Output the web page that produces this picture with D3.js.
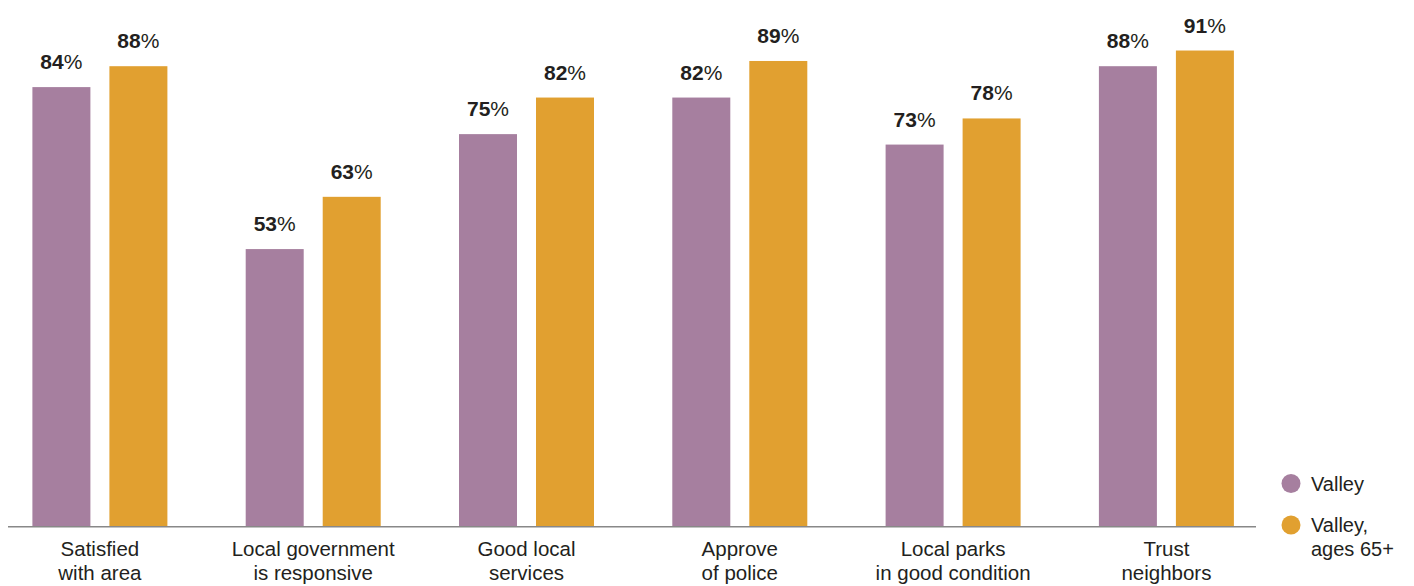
<!DOCTYPE html>
<html>
<head>
<meta charset="utf-8">
<script src="https://cdn.jsdelivr.net/npm/d3@7"></script>
<style>
  html, body { margin: 0; padding: 0; background: #fff; }
  svg { display: block; font-family: "Liberation Sans", Arial, sans-serif; }
</style>
</head>
<body>
<svg id="chart" width="1414" height="586"></svg>
<script>
const categories = [
  ["Satisfied", "with area"],
  ["Local government", "is responsive"],
  ["Good local", "services"],
  ["Approve", "of police"],
  ["Local parks", "in good condition"],
  ["Trust", "neighbors"]
];
const seriesNames = ["Valley", "Valley, ages 65+"];
const legendLines = [["Valley"], ["Valley,", "ages 65+"]];
const valley = [84, 53, 75, 82, 73, 88];
const valley65 = [88, 63, 82, 89, 78, 91];
const colors = ["#a67f9f", "#e1a030"];

const svg = d3.select("#chart");
const catKeys = categories.map(c => c.join(" "));
const series = [valley, valley65];

const x0 = d3.scaleBand().domain(catKeys).range([32.4, 1233.9]).paddingInner(0.3671).paddingOuter(0);
const x1 = d3.scaleBand().domain(seriesNames).range([0, x0.bandwidth()]).paddingInner(0.2468).paddingOuter(0);
const y = d3.scaleLinear().domain([0, 100]).range([526, 3.5]);

const groups = svg.append("g").selectAll("g")
  .data(catKeys)
  .join("g")
  .attr("transform", d => `translate(${x0(d)},0)`);

groups.each(function(cat, i) {
  const g = d3.select(this);
  seriesNames.forEach((s, j) => {
    const v = series[j][i];
    g.append("rect")
      .attr("x", x1(s))
      .attr("y", y(v))
      .attr("width", x1.bandwidth())
      .attr("height", y(0) - y(v))
      .attr("fill", colors[j]);
    const t = g.append("text")
      .attr("x", x1(s) + x1.bandwidth() / 2)
      .attr("y", y(v) - 18)
      .attr("text-anchor", "middle")
      .attr("fill", "#231f20")
      .style("font-size", "21px");
    t.append("tspan").attr("font-weight", "bold").text(v);
    t.append("tspan").text("%");
  });
});

// baseline axis
svg.append("line")
  .attr("x1", 8).attr("x2", 1256)
  .attr("y1", y(0) + 0.75).attr("y2", y(0) + 0.75)
  .attr("stroke", "#888").attr("stroke-width", 1.5);

// category labels
categories.forEach((lines, i) => {
  const cx = x0(catKeys[i]) + x0.bandwidth() / 2;
  const t = svg.append("text")
    .attr("text-anchor", "middle")
    .attr("fill", "#231f20")
    .style("font-size", "20.5px");
  lines.forEach((ln, k) => {
    t.append("tspan").attr("x", cx).attr("y", 556 + k * 24).text(ln);
  });
});

// legend
const legend = svg.append("g");
const legendY = [483.5, 525];
seriesNames.forEach((s, j) => {
  legend.append("circle")
    .attr("cx", 1291).attr("cy", legendY[j]).attr("r", 9.5)
    .attr("fill", colors[j]);
  const t = legend.append("text")
    .attr("fill", "#231f20")
    .style("font-size", "20px");
  legendLines[j].forEach((ln, k) => {
    t.append("tspan").attr("x", 1311).attr("y", legendY[j] + 7 + k * 24).text(ln);
  });
});
</script>
</body>
</html>
